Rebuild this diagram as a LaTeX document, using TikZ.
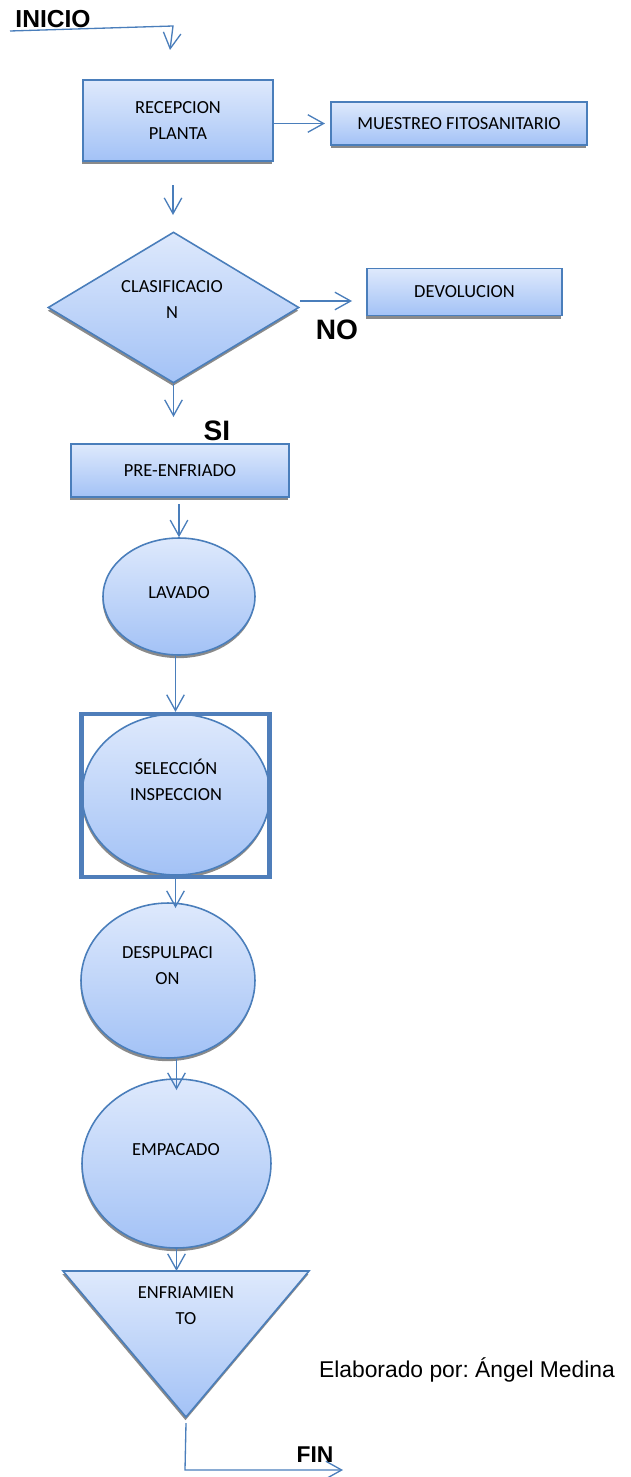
\documentclass[tikz,border=0pt]{standalone}
\usepackage{fontspec}
\setmainfont{Carlito}
\newfontfamily\arialfont{Liberation Sans}
\usetikzlibrary{shapes.geometric,arrows.meta}
\definecolor{edgeblue}{HTML}{4A7EBB}
\definecolor{frameblue}{HTML}{4F7EBA}
\definecolor{filltop}{HTML}{DEE9FC}
\definecolor{fillbot}{HTML}{A3C2F6}
\definecolor{shadowgray}{HTML}{8A8A8A}
\frenchspacing

\begin{document}
\begin{tikzpicture}[x=0.02cm, y=-0.02cm, font=\fontsize{10.5}{15}\selectfont,
  flow/.style={draw=edgeblue, line width=0.75pt,
    -{Straight Barb[length=9pt, width=10pt, line width=0.75pt]}},
  shapefill/.style={draw=edgeblue, line width=0.9pt, top color=filltop, bottom color=fillbot,
    preaction={fill=shadowgray, transform canvas={shift={(-0.3pt,-1.8pt)}}}},
  stepbox/.style={shapefill, rectangle, align=center, inner sep=0pt},
  oval/.style={shapefill, ellipse, inner sep=0pt},
  decide/.style={shapefill, diamond, inner sep=0pt},
  intext/.style={align=center, inner sep=0pt},
  bigtag/.style={inner sep=0pt, font=\arialfont\bfseries\fontsize{#1}{#1}\selectfont},
]
  \useasboundingbox (0,0) rectangle (630,1477);

  % start
  \node[bigtag=14] (inicio) at (53,19) {INICIO};
  \coordinate (s0) at (10,31);
  \coordinate (s1) at (173,26);
  \coordinate (s2) at (170,50);
  \draw[flow] (s0) -- (s1) -- (s2);

  % reception and sampling
  \node[stepbox, minimum width=3.8cm, minimum height=1.62cm] (rec) at (178,120.5) {RECEPCION\\PLANTA};
  \node[stepbox, minimum width=5.12cm, minimum height=0.86cm] (mue) at (459,123.5) {MUESTREO FITOSANITARIO};
  \draw[flow] (rec.east |- mue.west) -- ([xshift=-3pt]mue.west);

  % classification
  \coordinate (d0) at (173,185);
  \coordinate (d1) at (173,215);
  \draw[flow] (d0) -- (d1);
  \node[decide, minimum width=5.02cm, minimum height=3.02cm] (cla) at (173.5,307.5) {};
  \node[intext] (clatxt) at (172,299.5) {CLASIFICACIO\\N};

  % rejected
  \node[stepbox, minimum width=3.9cm, minimum height=0.94cm] (dev) at (464.5,292) {DEVOLUCION};
  \coordinate (n1) at (352,301);
  \draw[flow] (cla.east |- n1) -- (n1);
  \node[bigtag=16] (no) at (337,330) {NO};

  % accepted
  \draw[flow] (cla.south) -- (cla.south |- 0,417);
  \node[bigtag=16] (si) at (217,431) {SI};
  \node[stepbox, minimum width=4.36cm, minimum height=1.06cm] (pre) at (180,470.5) {PRE-ENFRIADO};

  % washing
  \node[oval, minimum width=3.04cm, minimum height=2.34cm] (lav) at (179,596.5) {};
  \node[intext] (lavtxt) at (179,592.5) {LAVADO};
  \draw[flow] (lav.north |- 0,504) -- (lav.north);

  % selection inside the control frame
  \node[oval, minimum width=3.76cm, minimum height=3.22cm] (sel) at (176,794.5) {};
  \node[intext] (seltxt) at (176,780) {SELECCIÓN\\INSPECCION};
  \node[draw=frameblue, line width=2.4pt, minimum width=3.76cm, minimum height=3.26cm, inner sep=0pt] (fra) at (175.5,795.5) {};
  \draw[flow] (fra.north |- lav.south) -- (fra.north);

  % pulping
  \node[oval, minimum width=3.48cm, minimum height=3.1cm] (des) at (168,980.5) {};
  \node[intext] (destxt) at (167.5,965.5) {DESPULPACI\\ON};
  \draw[flow] (fra.south) -- (fra.south |- 0,908);

  % packing
  \node[oval, minimum width=3.78cm, minimum height=3.38cm] (emp) at (176.5,1163.5) {};
  \node[intext] (emptxt) at (176,1149.5) {EMPACADO};
  \draw[flow] (emp.north |- des.south) -- (emp.north |- 0,1090);

  % cooling
  \coordinate (tl) at (63,1271);
  \coordinate (tr) at (309,1271);
  \coordinate (tb) at (186,1417);
  \path[shapefill] (tl) -- (tr) -- (tb) -- cycle;
  \node[intext] (enftxt) at (186,1305.5) {ENFRIAMIEN\\TO};
  \draw[flow] (emp.south) -- (emp.south |- tl);

  % end
  \coordinate (f1) at (185,1470);
  \coordinate (f2) at (343,1470);
  \draw[flow] (tb |- 0,1423) -- (f1) -- (f2);
  \node[bigtag=13] (fin) at (315,1455) {FIN};

  \node[inner sep=0pt, font=\arialfont\fontsize{13}{13}\selectfont] (autor) at (467,1370) {Elaborado por: Ángel Medina};
\end{tikzpicture}
\end{document}
